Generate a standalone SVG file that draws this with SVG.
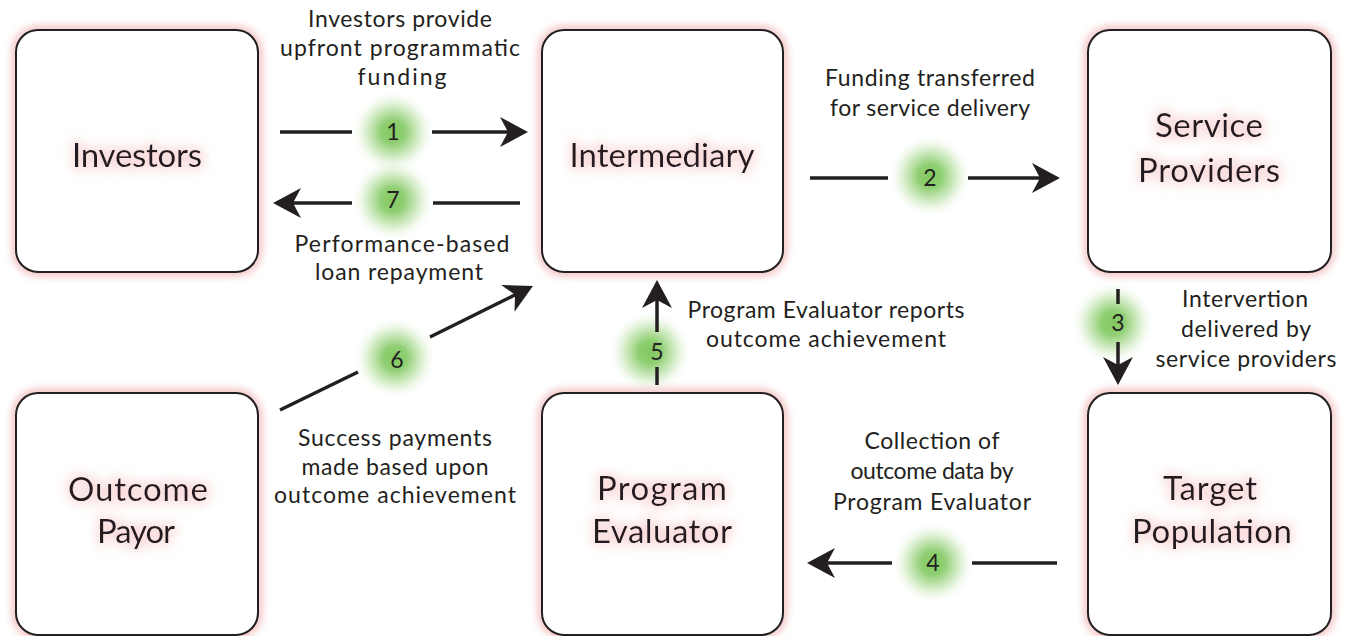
<svg xmlns="http://www.w3.org/2000/svg" width="1348" height="636" viewBox="0 0 1348 636">
<defs>
<style>
.box{fill:#ffffff;stroke:#231f20;stroke-width:2}
.glow{fill:none;stroke:#e26a6a;stroke-width:6;opacity:0.6}
.nlabel{font-family:Lato,"Open Sans","Liberation Sans",sans-serif;font-size:33px;fill:#231f20;text-anchor:middle}
.elabel{font-family:Lato,"Open Sans","Liberation Sans",sans-serif;font-size:23px;fill:#231f20;text-anchor:middle}
.num{font-family:Lato,"Open Sans","Liberation Sans",sans-serif;font-size:23px;fill:#231f20;text-anchor:middle}
.ln{stroke:#231f20;stroke-width:3.5;fill:none}
.arr{stroke:#231f20;stroke-width:3.5;fill:none;marker-end:url(#ah)}
</style>
<marker id="ah" viewBox="0 0 28 30" refX="18" refY="15" markerWidth="28" markerHeight="30" orient="auto" markerUnits="userSpaceOnUse">
<path d="M0,0 L28,15 L0,30 L8,15 Z" fill="#231f20"/>
</marker>
<filter id="boxglow" x="-20%" y="-20%" width="140%" height="140%">
<feGaussianBlur stdDeviation="4"/>
</filter>
<filter id="textglow" x="-20%" y="-50%" width="140%" height="200%">
<feMorphology in="SourceAlpha" operator="dilate" radius="3" result="d"/>
<feGaussianBlur in="d" stdDeviation="6" result="b"/>
<feFlood flood-color="#f2b4b4" flood-opacity="0.45"/>
<feComposite in2="b" operator="in" result="g"/>
<feMerge><feMergeNode in="g"/><feMergeNode in="SourceGraphic"/></feMerge>
</filter>
<radialGradient id="green">
<stop offset="0" stop-color="#74c24e" stop-opacity="0.9"/>
<stop offset="0.3" stop-color="#7cc65a" stop-opacity="0.85"/>
<stop offset="0.6" stop-color="#98d27a" stop-opacity="0.5"/>
<stop offset="0.85" stop-color="#b8e2a4" stop-opacity="0.15"/>
<stop offset="1" stop-color="#c8e8b8" stop-opacity="0"/>
</radialGradient>
</defs>
<rect width="1348" height="636" fill="#ffffff"/>

<g id="node-investors">
<rect class="glow" x="16" y="30" width="242" height="242" rx="22" filter="url(#boxglow)"/>
<rect class="box" x="16" y="30" width="242" height="242" rx="22"/>
<text class="nlabel" x="137" y="167" textLength="130" filter="url(#textglow)">Investors</text>
</g>
<g id="node-intermediary">
<rect class="glow" x="542" y="30" width="241" height="242" rx="22" filter="url(#boxglow)"/>
<rect class="box" x="542" y="30" width="241" height="242" rx="22"/>
<text class="nlabel" x="662" y="167" textLength="185" filter="url(#textglow)">Intermediary</text>
</g>
<g id="node-service-providers">
<rect class="glow" x="1088" y="30" width="243" height="242" rx="22" filter="url(#boxglow)"/>
<rect class="box" x="1088" y="30" width="243" height="242" rx="22"/>
<text class="nlabel" x="1209" y="137" textLength="108" filter="url(#textglow)">Service</text>
<text class="nlabel" x="1209" y="182" textLength="142" filter="url(#textglow)">Providers</text>
</g>
<g id="node-outcome-payor">
<rect class="glow" x="16" y="393" width="242" height="242" rx="22" filter="url(#boxglow)"/>
<rect class="box" x="16" y="393" width="242" height="242" rx="22"/>
<text class="nlabel" x="138" y="501" textLength="140" filter="url(#textglow)">Outcome</text>
<text class="nlabel" x="136" y="543" textLength="78" filter="url(#textglow)">Payor</text>
</g>
<g id="node-program-evaluator">
<rect class="glow" x="542" y="393" width="241" height="242" rx="22" filter="url(#boxglow)"/>
<rect class="box" x="542" y="393" width="241" height="242" rx="22"/>
<text class="nlabel" x="662" y="500" textLength="130" filter="url(#textglow)">Program</text>
<text class="nlabel" x="662" y="543" textLength="140" filter="url(#textglow)">Evaluator</text>
</g>
<g id="node-target-population">
<rect class="glow" x="1088" y="393" width="243" height="242" rx="22" filter="url(#boxglow)"/>
<rect class="box" x="1088" y="393" width="243" height="242" rx="22"/>
<text class="nlabel" x="1210" y="500" textLength="94" filter="url(#textglow)">Target</text>
<text class="nlabel" x="1212" y="543" textLength="160" filter="url(#textglow)">Population</text>
</g>

<g id="connectors">
<circle cx="393" cy="132" r="40" fill="url(#green)"/>
<circle cx="393" cy="200" r="40" fill="url(#green)"/>
<circle cx="930" cy="176" r="40" fill="url(#green)"/>
<circle cx="1113" cy="323" r="40" fill="url(#green)"/>
<circle cx="933" cy="563" r="40" fill="url(#green)"/>
<circle cx="650" cy="352" r="40" fill="url(#green)"/>
<circle cx="395" cy="358" r="40" fill="url(#green)"/>

<line class="ln" x1="280" y1="132" x2="352" y2="132"/>
<line class="arr" x1="432" y1="132" x2="518" y2="132"/>
<line class="ln" x1="433" y1="203" x2="520" y2="203"/>
<line class="arr" x1="352" y1="203" x2="283" y2="203"/>
<line class="ln" x1="810" y1="178" x2="888" y2="178"/>
<line class="arr" x1="968" y1="178" x2="1050" y2="178"/>
<line class="ln" x1="1118" y1="289" x2="1118" y2="304"/>
<line class="arr" x1="1118" y1="342" x2="1118" y2="375"/>
<line class="ln" x1="1057" y1="563" x2="972" y2="563"/>
<line class="arr" x1="892" y1="563" x2="817" y2="563"/>
<line class="ln" x1="657" y1="385" x2="657" y2="367"/>
<line class="arr" x1="657" y1="332" x2="657" y2="290"/>
<line class="ln" x1="280" y1="410" x2="358" y2="372"/>
<line class="arr" x1="430" y1="337" x2="524" y2="290.4"/>

<text class="num" x="393" y="140">1</text>
<text class="num" x="393" y="208">7</text>
<text class="num" x="930" y="186">2</text>
<text class="num" x="1118" y="331">3</text>
<text class="num" x="933" y="571">4</text>
<text class="num" x="657" y="360">5</text>
<text class="num" x="397" y="368">6</text>

<text class="elabel" x="400" y="27" textLength="184">Investors provide</text>
<text class="elabel" x="400" y="56" textLength="240">upfront programmatic</text>
<text class="elabel" x="402" y="85" textLength="89">funding</text>
<text class="elabel" x="402" y="252" textLength="215">Performance-based</text>
<text class="elabel" x="399" y="280" textLength="168">loan repayment</text>
<text class="elabel" x="930" y="86" textLength="210">Funding transferred</text>
<text class="elabel" x="930" y="116" textLength="200">for service delivery</text>
<text class="elabel" x="1245" y="307" textLength="126">Intervertion</text>
<text class="elabel" x="1246" y="337" textLength="130">delivered by</text>
<text class="elabel" x="1246" y="367" textLength="181">service providers</text>
<text class="elabel" x="826" y="318" textLength="277">Program Evaluator reports</text>
<text class="elabel" x="826" y="347" textLength="240">outcome achievement</text>
<text class="elabel" x="395" y="446" textLength="194">Success payments</text>
<text class="elabel" x="395" y="475" textLength="187">made based upon</text>
<text class="elabel" x="395" y="503" textLength="242">outcome achievement</text>
<text class="elabel" x="932" y="449" textLength="135">Collection of</text>
<text class="elabel" x="932" y="479" textLength="163">outcome data by</text>
<text class="elabel" x="932" y="510" textLength="198">Program Evaluator</text>
</g>
</svg>
